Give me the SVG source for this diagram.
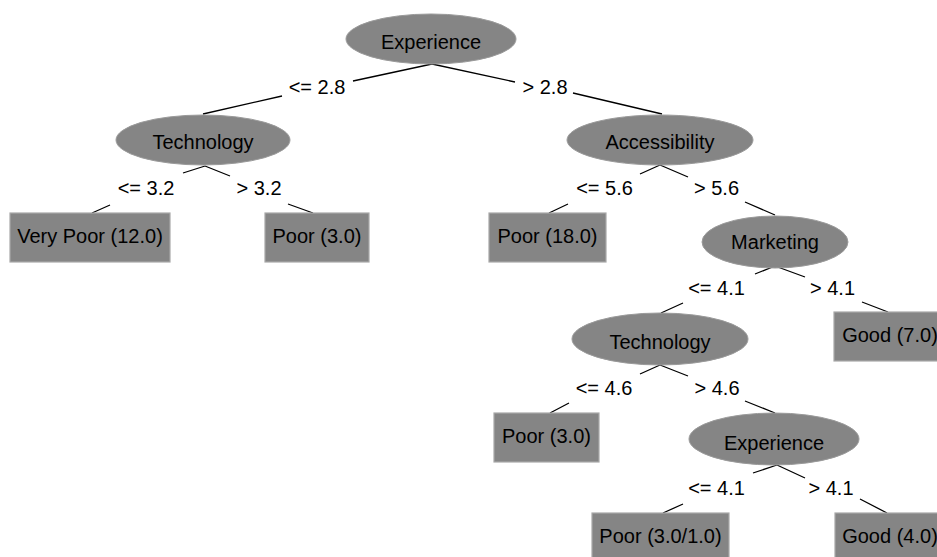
<svg xmlns="http://www.w3.org/2000/svg" width="937" height="557" viewBox="0 0 937 557">
<style>
text{font-family:"Liberation Sans",Arial,sans-serif;font-size:20px;fill:#000;text-anchor:middle}
.n{fill:#858585;stroke:#9a9a9a;stroke-width:1}
.l{fill:#858585;stroke:#a8a8a8;stroke-width:1.2}
.e{stroke:#000;stroke-width:1.3;fill:none}
</style>
<rect width="937" height="557" fill="#fff"/>
<g id="connectors">
<path class="e" d="M432,64L353,81M282,96L203,114"/>
<path class="e" d="M432,64L515,82M573,93L662,114"/>
<path class="e" d="M205,166L183,173M110,205L92,213"/>
<path class="e" d="M205,166L230,176M288,204L313,213"/>
<path class="e" d="M660,165L640,174M568,204L549,213"/>
<path class="e" d="M660,165L688,177M745,202L775,215"/>
<path class="e" d="M775,266L755,274M683,303L661,313"/>
<path class="e" d="M775,266L805,277M862,302L888,312"/>
<path class="e" d="M660,365L640,374M569,403L550,413"/>
<path class="e" d="M660,365L688,376M745,401L775,413"/>
<path class="e" d="M777,465L753,473M683,504L663,513"/>
<path class="e" d="M777,465L805,478M860,499L887,513"/>
<text x="317" y="94">&lt;= 2.8</text>
<text x="545" y="94">&gt; 2.8</text>
<text x="146" y="195">&lt;= 3.2</text>
<text x="259" y="195">&gt; 3.2</text>
<text x="604.5" y="195">&lt;= 5.6</text>
<text x="716.5" y="195">&gt; 5.6</text>
<text x="716.5" y="295">&lt;= 4.1</text>
<text x="832.5" y="295">&gt; 4.1</text>
<text x="604" y="395">&lt;= 4.6</text>
<text x="717" y="395">&gt; 4.6</text>
<text x="716.5" y="495">&lt;= 4.1</text>
<text x="831" y="495">&gt; 4.1</text>
</g>
<g id="n0"><ellipse class="n" cx="431" cy="39" rx="85" ry="25"/><text x="431" y="49">Experience</text></g>
<g id="n1"><ellipse class="n" cx="203" cy="140" rx="87" ry="25"/><text x="203" y="149">Technology</text></g>
<g id="n2"><ellipse class="n" cx="660" cy="140" rx="93" ry="25"/><text x="660" y="149">Accessibility</text></g>
<g id="n3"><ellipse class="n" cx="775" cy="242" rx="73" ry="26"/><text x="775" y="249">Marketing</text></g>
<g id="n4"><ellipse class="n" cx="660" cy="339" rx="88" ry="26"/><text x="660" y="349">Technology</text></g>
<g id="n5"><ellipse class="n" cx="774" cy="439" rx="85" ry="26"/><text x="774" y="450">Experience</text></g>
<g id="l1"><rect class="l" x="10" y="213" width="160" height="49"/><text x="90" y="243">Very Poor (12.0)</text></g>
<g id="l2"><rect class="l" x="265" y="213" width="104" height="49"/><text x="317" y="243">Poor (3.0)</text></g>
<g id="l3"><rect class="l" x="489" y="213" width="117" height="49"/><text x="547.5" y="243">Poor (18.0)</text></g>
<g id="l4"><rect class="l" x="834" y="312" width="112" height="49"/><text x="890" y="342">Good (7.0)</text></g>
<g id="l5"><rect class="l" x="494" y="413" width="105" height="49"/><text x="546.5" y="443">Poor (3.0)</text></g>
<g id="l6"><rect class="l" x="592" y="513" width="137" height="49"/><text x="660.5" y="543">Poor (3.0/1.0)</text></g>
<g id="l7"><rect class="l" x="835" y="513" width="112" height="49"/><text x="890" y="543">Good (4.0)</text></g>
</svg>
